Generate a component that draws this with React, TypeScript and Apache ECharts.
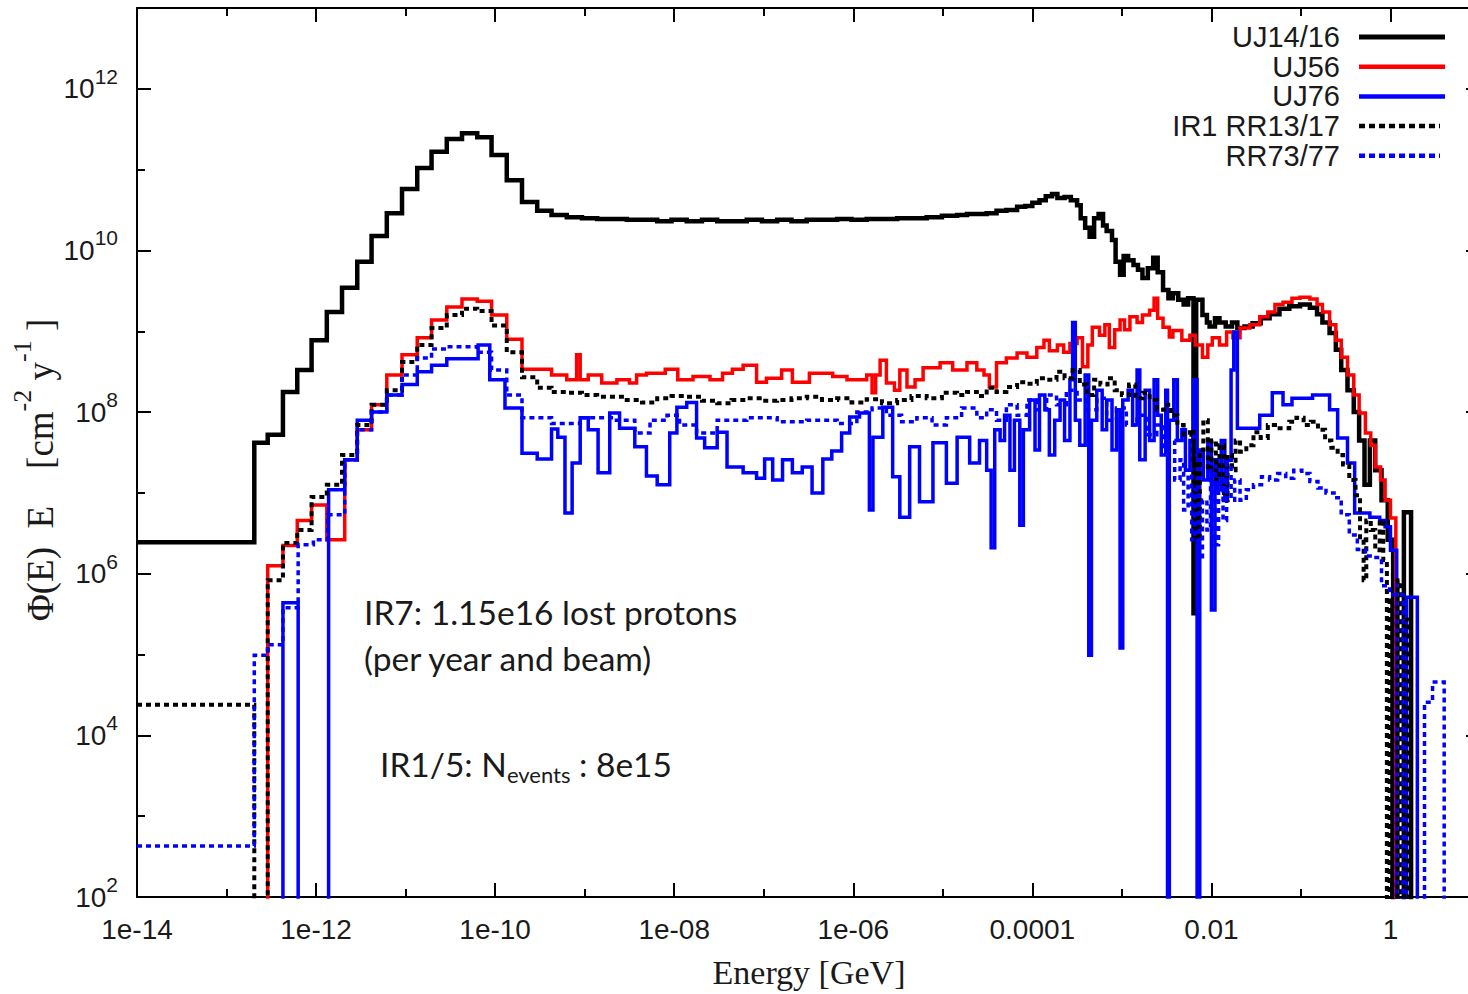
import React, { useEffect, useRef } from "react";
import * as echarts from "echarts";

// Each point: [log10(E / GeV), log10(Φ(E)·E / cm^-2 y^-1)] at the left edge of a histogram bin.
// A value of 0 marks an empty bin (falls below the 10^2 floor of the axis).
const uj1416: number[][] = [
  [-14.0, 6.39], [-12.69, 7.62], [-12.54, 7.72], [-12.37, 8.25], [-12.21, 8.52], [-12.05, 8.89],
  [-11.88, 9.24], [-11.71, 9.54], [-11.54, 9.86], [-11.38, 10.18], [-11.21, 10.46], [-11.04, 10.76],
  [-10.87, 11.02], [-10.71, 11.22], [-10.54, 11.38], [-10.37, 11.45], [-10.2, 11.4], [-10.04, 11.18],
  [-9.87, 10.87], [-9.7, 10.6], [-9.53, 10.49], [-9.37, 10.44], [-9.2, 10.41], [-9.03, 10.4],
  [-8.86, 10.39], [-8.7, 10.39], [-8.53, 10.38], [-8.36, 10.38], [-8.19, 10.36], [-8.03, 10.38],
  [-7.86, 10.36], [-7.69, 10.38], [-7.52, 10.36], [-7.36, 10.36], [-7.19, 10.38], [-7.02, 10.36],
  [-6.85, 10.38], [-6.69, 10.36], [-6.52, 10.38], [-6.35, 10.38], [-6.18, 10.39], [-6.02, 10.38],
  [-5.85, 10.39], [-5.68, 10.39], [-5.51, 10.4], [-5.35, 10.4], [-5.18, 10.41], [-5.01, 10.43],
  [-4.84, 10.44], [-4.73, 10.45], [-4.62, 10.45], [-4.51, 10.46], [-4.4, 10.49], [-4.29, 10.5],
  [-4.17, 10.54], [-4.08, 10.55], [-4.0, 10.59], [-3.92, 10.62], [-3.85, 10.67], [-3.78, 10.7],
  [-3.72, 10.65], [-3.64, 10.66], [-3.57, 10.62], [-3.5, 10.56], [-3.46, 10.4], [-3.41, 10.28],
  [-3.36, 10.17], [-3.31, 10.4], [-3.26, 10.45], [-3.21, 10.31], [-3.17, 10.24], [-3.11, 10.13],
  [-3.07, 9.86], [-3.02, 9.7], [-2.98, 9.93], [-2.93, 9.88], [-2.87, 9.82], [-2.82, 9.76],
  [-2.77, 9.66], [-2.71, 9.78], [-2.65, 9.91], [-2.6, 9.73], [-2.54, 9.51], [-2.48, 9.41],
  [-2.43, 9.47], [-2.37, 9.39], [-2.31, 9.33], [-2.26, 9.41], [-2.2, 5.51], [-2.17, 9.39],
  [-2.1, 9.2], [-2.05, 9.11], [-2.02, 9.06], [-1.96, 9.16], [-1.91, 9.11], [-1.84, 9.06],
  [-1.77, 9.11], [-1.71, 9.04], [-1.63, 9.06], [-1.54, 9.1], [-1.45, 9.16], [-1.35, 9.21],
  [-1.24, 9.28], [-1.13, 9.31], [-1.01, 9.33], [-0.9, 9.29], [-0.82, 9.21], [-0.76, 9.11],
  [-0.68, 8.98], [-0.61, 8.77], [-0.55, 8.52], [-0.48, 8.27], [-0.41, 8.0], [-0.35, 7.65],
  [-0.29, 7.1], [-0.23, 7.65], [-0.17, 7.28], [-0.1, 6.91], [-0.03, 6.42], [0.03, 0],
  [0.15, 6.76], [0.23, 0], [0.5, 0],
];

const uj56: number[][] = [
  [-12.7, 0], [-12.54, 6.1], [-12.37, 6.35], [-12.21, 6.66], [-12.05, 6.85], [-11.88, 6.42],
  [-11.68, 7.41], [-11.54, 7.78], [-11.38, 8.09], [-11.21, 8.46], [-11.04, 8.71], [-10.87, 8.92],
  [-10.71, 9.14], [-10.54, 9.3], [-10.37, 9.4], [-10.2, 9.37], [-10.04, 9.2], [-9.87, 8.9],
  [-9.7, 8.53], [-9.37, 8.46], [-9.2, 8.4], [-9.09, 8.71], [-9.05, 8.4], [-8.96, 8.46],
  [-8.81, 8.36], [-8.64, 8.4], [-8.5, 8.36], [-8.42, 8.46], [-8.31, 8.48], [-8.1, 8.53],
  [-7.96, 8.4], [-7.79, 8.44], [-7.6, 8.4], [-7.46, 8.48], [-7.35, 8.53], [-7.23, 8.58],
  [-7.08, 8.37], [-6.97, 8.42], [-6.8, 8.52], [-6.68, 8.37], [-6.49, 8.48], [-6.23, 8.44],
  [-6.07, 8.4], [-5.85, 8.46], [-5.79, 8.24], [-5.75, 8.46], [-5.7, 8.64], [-5.63, 8.36],
  [-5.54, 8.27], [-5.48, 8.52], [-5.4, 8.31], [-5.31, 8.4], [-5.22, 8.55], [-5.03, 8.61],
  [-4.89, 8.52], [-4.73, 8.61], [-4.62, 8.52], [-4.54, 8.46], [-4.48, 8.31], [-4.4, 8.61],
  [-4.29, 8.67], [-4.17, 8.73], [-4.06, 8.68], [-3.95, 8.8], [-3.87, 8.89], [-3.81, 8.76],
  [-3.72, 8.83], [-3.65, 8.74], [-3.58, 8.85], [-3.5, 8.92], [-3.44, 8.56], [-3.38, 8.83],
  [-3.33, 9.05], [-3.25, 8.95], [-3.19, 9.08], [-3.14, 8.8], [-3.08, 9.02], [-3.02, 9.14],
  [-2.97, 9.02], [-2.91, 9.18], [-2.83, 9.11], [-2.77, 9.2], [-2.69, 9.26], [-2.64, 9.41],
  [-2.6, 9.16], [-2.54, 9.05], [-2.47, 8.93], [-2.43, 9.01], [-2.33, 8.89], [-2.24, 8.95],
  [-2.18, 8.83], [-2.1, 8.68], [-2.04, 8.83], [-1.99, 8.92], [-1.91, 8.83], [-1.83, 8.99],
  [-1.76, 8.92], [-1.68, 9.04], [-1.57, 9.08], [-1.46, 9.18], [-1.37, 9.24], [-1.29, 9.33],
  [-1.2, 9.36], [-1.1, 9.41], [-1.01, 9.42], [-0.9, 9.4], [-0.82, 9.33], [-0.76, 9.24],
  [-0.68, 9.08], [-0.61, 8.89], [-0.55, 8.68], [-0.48, 8.46], [-0.41, 8.21], [-0.35, 7.99],
  [-0.28, 7.74], [-0.22, 7.59], [-0.17, 7.32], [-0.11, 7.16], [-0.06, 6.91], [0.0, 6.69],
  [0.06, 0], [0.5, 0],
];

const uj76: number[][] = [
  [-12.5, 0], [-12.37, 5.64], [-12.2, 0], [-11.86, 7.04], [-11.68, 7.41], [-11.54, 7.9],
  [-11.38, 8.0], [-11.21, 8.21], [-11.04, 8.34], [-10.87, 8.5], [-10.71, 8.58], [-10.54, 8.66],
  [-10.19, 8.83], [-10.06, 8.4], [-9.89, 8.05], [-9.7, 7.49], [-9.53, 7.42], [-9.37, 7.79],
  [-9.3, 7.69], [-9.22, 6.75], [-9.14, 7.37], [-9.05, 7.93], [-8.96, 7.78], [-8.85, 7.25],
  [-8.72, 7.99], [-8.61, 7.8], [-8.44, 7.57], [-8.31, 7.21], [-8.19, 7.1], [-8.05, 7.74],
  [-7.97, 8.06], [-7.86, 8.12], [-7.75, 7.68], [-7.66, 7.56], [-7.52, 7.75], [-7.41, 7.32],
  [-7.23, 7.25], [-7.08, 7.18], [-6.99, 7.42], [-6.9, 7.16], [-6.79, 7.41], [-6.68, 7.25],
  [-6.57, 7.32], [-6.46, 7.0], [-6.34, 7.42], [-6.24, 7.52], [-6.13, 7.74], [-6.04, 7.94],
  [-5.93, 7.99], [-5.82, 6.79], [-5.78, 7.69], [-5.67, 8.06], [-5.56, 7.2], [-5.48, 6.7],
  [-5.37, 7.57], [-5.26, 6.89], [-5.11, 7.62], [-4.96, 7.12], [-4.84, 7.69], [-4.7, 7.37],
  [-4.59, 7.65], [-4.51, 7.28], [-4.46, 6.32], [-4.42, 7.78], [-4.36, 7.65], [-4.31, 7.96],
  [-4.25, 7.28], [-4.2, 7.9], [-4.14, 6.6], [-4.1, 7.78], [-4.03, 8.15], [-3.97, 7.53],
  [-3.92, 8.21], [-3.86, 8.03], [-3.81, 7.47], [-3.75, 7.9], [-3.69, 8.15], [-3.64, 7.65],
  [-3.58, 8.4], [-3.55, 9.11], [-3.52, 7.9], [-3.47, 7.59], [-3.41, 8.46], [-3.37, 4.99],
  [-3.34, 7.9], [-3.28, 8.27], [-3.22, 7.78], [-3.17, 8.15], [-3.11, 7.53], [-3.06, 8.03],
  [-3.02, 5.08], [-2.99, 8.15], [-2.93, 8.27], [-2.88, 7.84], [-2.83, 8.52], [-2.8, 7.41],
  [-2.74, 8.27], [-2.69, 7.65], [-2.64, 8.4], [-2.6, 7.96], [-2.56, 7.47], [-2.51, 8.27],
  [-2.49, 0], [-2.47, 7.9], [-2.42, 8.4], [-2.38, 7.65], [-2.33, 7.78], [-2.29, 7.28],
  [-2.24, 7.65], [-2.2, 8.4], [-2.16, 0], [-2.13, 7.53], [-2.09, 7.16], [-2.04, 7.65],
  [-2.0, 5.55], [-1.96, 7.41], [-1.93, 7.04], [-1.89, 7.65], [-1.85, 6.91], [-1.82, 7.41],
  [-1.78, 8.52], [-1.75, 8.99], [-1.71, 7.8], [-1.46, 7.96], [-1.32, 8.24], [-1.2, 8.09],
  [-1.1, 8.17], [-0.87, 8.21], [-0.68, 8.03], [-0.59, 7.68], [-0.48, 7.37], [-0.4, 6.75],
  [-0.23, 6.7], [-0.12, 6.66], [-0.06, 6.58], [0.0, 6.29], [0.07, 0], [0.18, 5.71],
  [0.3, 0], [0.5, 0],
];

const ir1rr1317: number[][] = [
  [-14.0, 4.38], [-12.69, 0], [-12.54, 5.92], [-12.37, 6.38], [-12.21, 6.54], [-12.05, 6.95],
  [-11.88, 7.1], [-11.71, 7.47], [-11.54, 7.84], [-11.38, 8.09], [-11.21, 8.27], [-11.04, 8.62],
  [-10.87, 8.83], [-10.71, 9.04], [-10.54, 9.2], [-10.37, 9.28], [-10.2, 9.25], [-10.04, 9.07],
  [-9.87, 8.74], [-9.7, 8.43], [-9.53, 8.3], [-9.37, 8.25], [-9.2, 8.24], [-9.03, 8.21],
  [-8.86, 8.19], [-8.7, 8.19], [-8.53, 8.15], [-8.36, 8.12], [-8.19, 8.17], [-8.03, 8.2],
  [-7.86, 8.19], [-7.69, 8.14], [-7.52, 8.11], [-7.36, 8.15], [-7.19, 8.17], [-7.02, 8.14],
  [-6.85, 8.15], [-6.69, 8.17], [-6.52, 8.19], [-6.35, 8.15], [-6.18, 8.17], [-6.02, 8.12],
  [-5.85, 8.16], [-5.68, 8.11], [-5.51, 8.15], [-5.35, 8.2], [-5.18, 8.17], [-5.01, 8.24],
  [-4.84, 8.21], [-4.73, 8.25], [-4.62, 8.2], [-4.51, 8.3], [-4.4, 8.25], [-4.29, 8.31],
  [-4.17, 8.37], [-4.06, 8.35], [-3.95, 8.42], [-3.84, 8.4], [-3.73, 8.5], [-3.64, 8.42],
  [-3.55, 8.52], [-3.47, 8.34], [-3.39, 8.21], [-3.31, 8.4], [-3.24, 8.34], [-3.16, 8.42],
  [-3.08, 8.27], [-3.0, 8.21], [-2.92, 8.34], [-2.85, 8.17], [-2.77, 8.24], [-2.69, 8.15],
  [-2.61, 8.03], [-2.53, 8.09], [-2.45, 7.96], [-2.38, 7.84], [-2.31, 7.72], [-2.24, 7.78],
  [-2.2, 7.41], [-2.16, 6.42], [-2.13, 7.53], [-2.09, 7.9], [-2.04, 7.28], [-2.0, 7.65],
  [-1.95, 7.16], [-1.91, 7.59], [-1.86, 6.91], [-1.82, 7.47], [-1.77, 7.28], [-1.73, 7.65],
  [-1.68, 7.51], [-1.61, 7.59], [-1.53, 7.75], [-1.45, 7.68], [-1.37, 7.84], [-1.29, 7.8],
  [-1.13, 7.88], [-1.05, 7.93], [-0.97, 7.84], [-0.89, 7.88], [-0.81, 7.78], [-0.73, 7.65],
  [-0.66, 7.56], [-0.59, 7.47], [-0.53, 7.35], [-0.46, 7.16], [-0.39, 6.97], [-0.34, 6.42],
  [-0.3, 5.92], [-0.27, 6.66], [-0.22, 6.54], [-0.17, 6.29], [-0.12, 6.66], [-0.08, 6.17],
  [-0.04, 0], [-0.01, 5.67], [0.02, 0], [0.08, 5.92], [0.11, 0], [0.15, 5.43],
  [0.2, 0], [0.5, 0],
];

const rr7377: number[][] = [
  [-14.0, 2.63], [-12.69, 4.99], [-12.54, 5.12], [-12.37, 5.58], [-12.2, 6.36], [-12.03, 6.42],
  [-11.87, 6.73], [-11.68, 7.41], [-11.54, 7.78], [-11.38, 8.0], [-11.21, 8.21], [-11.04, 8.46],
  [-10.87, 8.67], [-10.71, 8.78], [-10.54, 8.81], [-10.2, 8.74], [-10.04, 8.52], [-9.87, 8.21],
  [-9.7, 7.93], [-9.37, 7.86], [-9.05, 7.93], [-8.68, 7.9], [-8.44, 7.74], [-8.27, 7.9],
  [-8.08, 7.96], [-7.94, 7.84], [-7.75, 7.74], [-7.52, 7.9], [-7.19, 7.93], [-6.85, 7.88],
  [-6.52, 7.9], [-6.18, 7.86], [-5.96, 8.0], [-5.79, 8.05], [-5.63, 7.96], [-5.46, 7.88],
  [-5.29, 7.93], [-5.12, 7.84], [-4.96, 7.93], [-4.79, 8.05], [-4.62, 7.93], [-4.51, 8.03],
  [-4.4, 7.9], [-4.29, 8.09], [-4.17, 7.96], [-4.06, 8.15], [-3.95, 8.03], [-3.84, 8.21],
  [-3.73, 8.09], [-3.62, 8.27], [-3.5, 8.15], [-3.39, 8.03], [-3.28, 8.17], [-3.17, 7.9],
  [-3.06, 8.05], [-2.95, 7.84], [-2.83, 7.96], [-2.72, 7.72], [-2.61, 7.84], [-2.53, 7.53],
  [-2.47, 7.65], [-2.41, 7.16], [-2.35, 7.41], [-2.31, 6.79], [-2.26, 7.28], [-2.22, 6.42],
  [-2.19, 7.04], [-2.14, 6.17], [-2.1, 6.91], [-2.05, 6.54], [-2.01, 7.28], [-1.96, 6.36],
  [-1.92, 7.16], [-1.87, 6.66], [-1.83, 7.41], [-1.78, 6.91], [-1.74, 7.16], [-1.68, 6.91],
  [-1.61, 7.04], [-1.53, 7.1], [-1.44, 7.2], [-1.35, 7.16], [-1.26, 7.24], [-1.17, 7.18],
  [-1.08, 7.28], [-0.99, 7.24], [-0.9, 7.14], [-0.81, 7.06], [-0.72, 7.0], [-0.63, 6.94],
  [-0.55, 6.73], [-0.46, 6.48], [-0.37, 6.3], [-0.28, 6.22], [-0.19, 6.2], [-0.1, 5.85],
  [-0.01, 5.74], [0.14, 0], [0.38, 4.41], [0.47, 4.66], [0.6, 0], [0.8, 0],
];

const seriesNames = ["UJ14/16", "UJ56", "UJ76", "IR1 RR13/17", "RR73/77"];
const seriesData = [uj1416, uj56, uj76, ir1rr1317, rr7377];
// x tick labels at log10 E = -14, -12, ..., 0
const xTickLabels = ["1e-14", "1e-12", "1e-10", "1e-08", "1e-06", "0.0001", "0.01", "1"];
// y tick labels: powers of ten shown as 10^n
const yTickExponents = [2, 4, 6, 8, 10, 12];
const annotationLines = ["IR7: 1.15e16 lost protons", "(per year and beam)"];
const annotationEvents = { prefix: "IR1/5: N", sub: "events", suffix: " : 8e15" };

const X_MIN = -14;
const X_MAX = 1;
const Y_MIN = 2;
const Y_MAX = 13;

const COLORS = ["#000000", "#ff0000", "#0000ff", "#000000", "#0000ff"];
const WIDTHS = [4.5, 3.5, 3.5, 4, 3.5];
const DASHES: (number[] | null)[] = [null, null, null, [5, 4], [5, 4]];

const SANS = "'Liberation Sans', Arial, sans-serif";
const SERIF = "'Liberation Serif', 'Times New Roman', serif";
const TEXT_SANS = "Lato, 'Open Sans', sans-serif";

export default function App() {
  const ref = useRef<HTMLDivElement>(null);

  useEffect(() => {
    if (!ref.current) return;
    const chart = echarts.init(ref.current, undefined, { renderer: "svg" });

    const axisLine = { show: true, onZero: false, lineStyle: { color: "#000", width: 2 } };
    const axisTick = { show: true, inside: true, length: 14, lineStyle: { color: "#000", width: 2 } };
    const minorTick = { show: true, splitNumber: 2, length: 8, lineStyle: { color: "#000", width: 2 } };

    const xLabel = (v: number) => {
      const r = Math.round(v);
      if (r % 2 !== 0 || r > 0) return "";
      const idx = (r - X_MIN) / 2;
      return xTickLabels[idx] ?? "";
    };
    const yLabel = (v: number) => {
      const r = Math.round(v);
      if (yTickExponents.indexOf(r) < 0) return "";
      return `{b|10}{s|${r}}`;
    };

    const legendGraphics: any[] = [];
    seriesNames.forEach((name, i) => {
      const cy = 37 + i * 29.7;
      legendGraphics.push({
        type: "text",
        x: 1340,
        y: cy,
        z: 200,
        style: {
          text: name,
          fill: "#1a1a1a",
          fontSize: 29,
          fontFamily: SANS,
          align: "right",
          verticalAlign: "middle",
        },
      });
      legendGraphics.push({
        type: "line",
        z: 200,
        shape: { x1: 1359, y1: cy, x2: DASHES[i] ? 1440 : 1445, y2: cy },
        style: {
          stroke: COLORS[i],
          lineWidth: i === 0 ? 5 : 4.5,
          lineDash: DASHES[i] ? [6, 4] : null,
        },
      });
    });

    const option: any = {
      animation: false,
      backgroundColor: "#ffffff",
      grid: {
        left: 137,
        top: 8,
        right: -12,
        bottom: 97,
        containLabel: false,
        outerBoundsMode: "none",
      },
      xAxis: [
        {
          type: "value",
          min: X_MIN,
          max: X_MAX,
          interval: 2,
          position: "bottom",
          axisLine,
          axisTick,
          minorTick,
          splitLine: { show: false },
          axisLabel: {
            formatter: xLabel,
            margin: 18,
            fontSize: 28,
            fontFamily: SANS,
            color: "#1a1a1a",
          },
        },
        {
          type: "value",
          min: X_MIN,
          max: X_MAX,
          interval: 2,
          position: "top",
          axisLine,
          axisTick,
          minorTick,
          splitLine: { show: false },
          axisLabel: { show: false },
        },
      ],
      yAxis: [
        {
          type: "value",
          min: Y_MIN,
          max: Y_MAX,
          interval: 2,
          position: "left",
          axisLine,
          axisTick,
          minorTick,
          splitLine: { show: false },
          axisLabel: {
            formatter: yLabel,
            margin: 19,
            color: "#1a1a1a",
            fontFamily: SANS,
            rich: {
              b: { fontSize: 28, fontFamily: SANS, color: "#1a1a1a", lineHeight: 46, verticalAlign: "middle" },
              s: { fontSize: 21, fontFamily: SANS, color: "#1a1a1a", lineHeight: 23, verticalAlign: "top" },
            },
          },
        },
        {
          type: "value",
          min: Y_MIN,
          max: Y_MAX,
          interval: 2,
          position: "right",
          axisLine,
          axisTick,
          minorTick,
          splitLine: { show: false },
          axisLabel: { show: false },
        },
      ],
      series: seriesNames.map((name, i) => ({
        name,
        type: "line",
        data: seriesData[i],
        step: "end",
        symbol: "none",
        showSymbol: false,
        clip: true,
        silent: true,
        z: 2 + i,
        lineStyle: {
          color: COLORS[i],
          width: WIDTHS[i],
          type: DASHES[i] ? DASHES[i] : "solid",
          cap: "butt",
          join: "miter",
        },
      })),
      graphic: [
        ...legendGraphics,
        {
          type: "text",
          x: 364,
          y: 612,
          z: 200,
          style: {
            text: annotationLines[0],
            fill: "#1a1a1a",
            fontSize: 33.5,
            fontFamily: TEXT_SANS,
            align: "left",
            verticalAlign: "middle",
          },
        },
        {
          type: "text",
          x: 364,
          y: 658,
          z: 200,
          style: {
            text: annotationLines[1],
            fill: "#1a1a1a",
            fontSize: 33.5,
            fontFamily: TEXT_SANS,
            align: "left",
            verticalAlign: "middle",
          },
        },
        {
          type: "text",
          x: 380,
          y: 764,
          z: 200,
          style: {
            text: `{n|${annotationEvents.prefix}}{u|${annotationEvents.sub}}{n|${annotationEvents.suffix}}`,
            align: "left",
            verticalAlign: "middle",
            rich: {
              n: { fontSize: 33.5, fontFamily: TEXT_SANS, fill: "#1a1a1a", lineHeight: 42, verticalAlign: "middle" },
              u: { fontSize: 22, fontFamily: TEXT_SANS, fill: "#1a1a1a", lineHeight: 22, verticalAlign: "bottom" },
            },
          },
        },
        {
          type: "text",
          x: 809,
          y: 972,
          z: 200,
          style: {
            text: "Energy [GeV]",
            fill: "#1a1a1a",
            fontSize: 34,
            fontFamily: SERIF,
            align: "center",
            verticalAlign: "middle",
          },
        },
        {
          type: "text",
          x: 40,
          y: 470,
          rotation: Math.PI / 2,
          z: 200,
          style: {
            text: "{a|Φ(E)  E    [cm}{s|-2}{a| y}{s|-1}{a| ]}",
            align: "center",
            verticalAlign: "middle",
            rich: {
              a: { fontSize: 37, fontFamily: SERIF, fill: "#1a1a1a", lineHeight: 62, verticalAlign: "middle" },
              s: { fontSize: 26, fontFamily: SERIF, fill: "#1a1a1a", lineHeight: 25, verticalAlign: "top" },
            },
          },
        },
      ],
    };

    chart.setOption(option);
    return () => {
      chart.dispose();
    };
  }, []);

  return (
    <div
      ref={ref}
      style={{ position: "fixed", left: 0, top: 0, width: 1468, height: 994, background: "#ffffff" }}
    />
  );
}
